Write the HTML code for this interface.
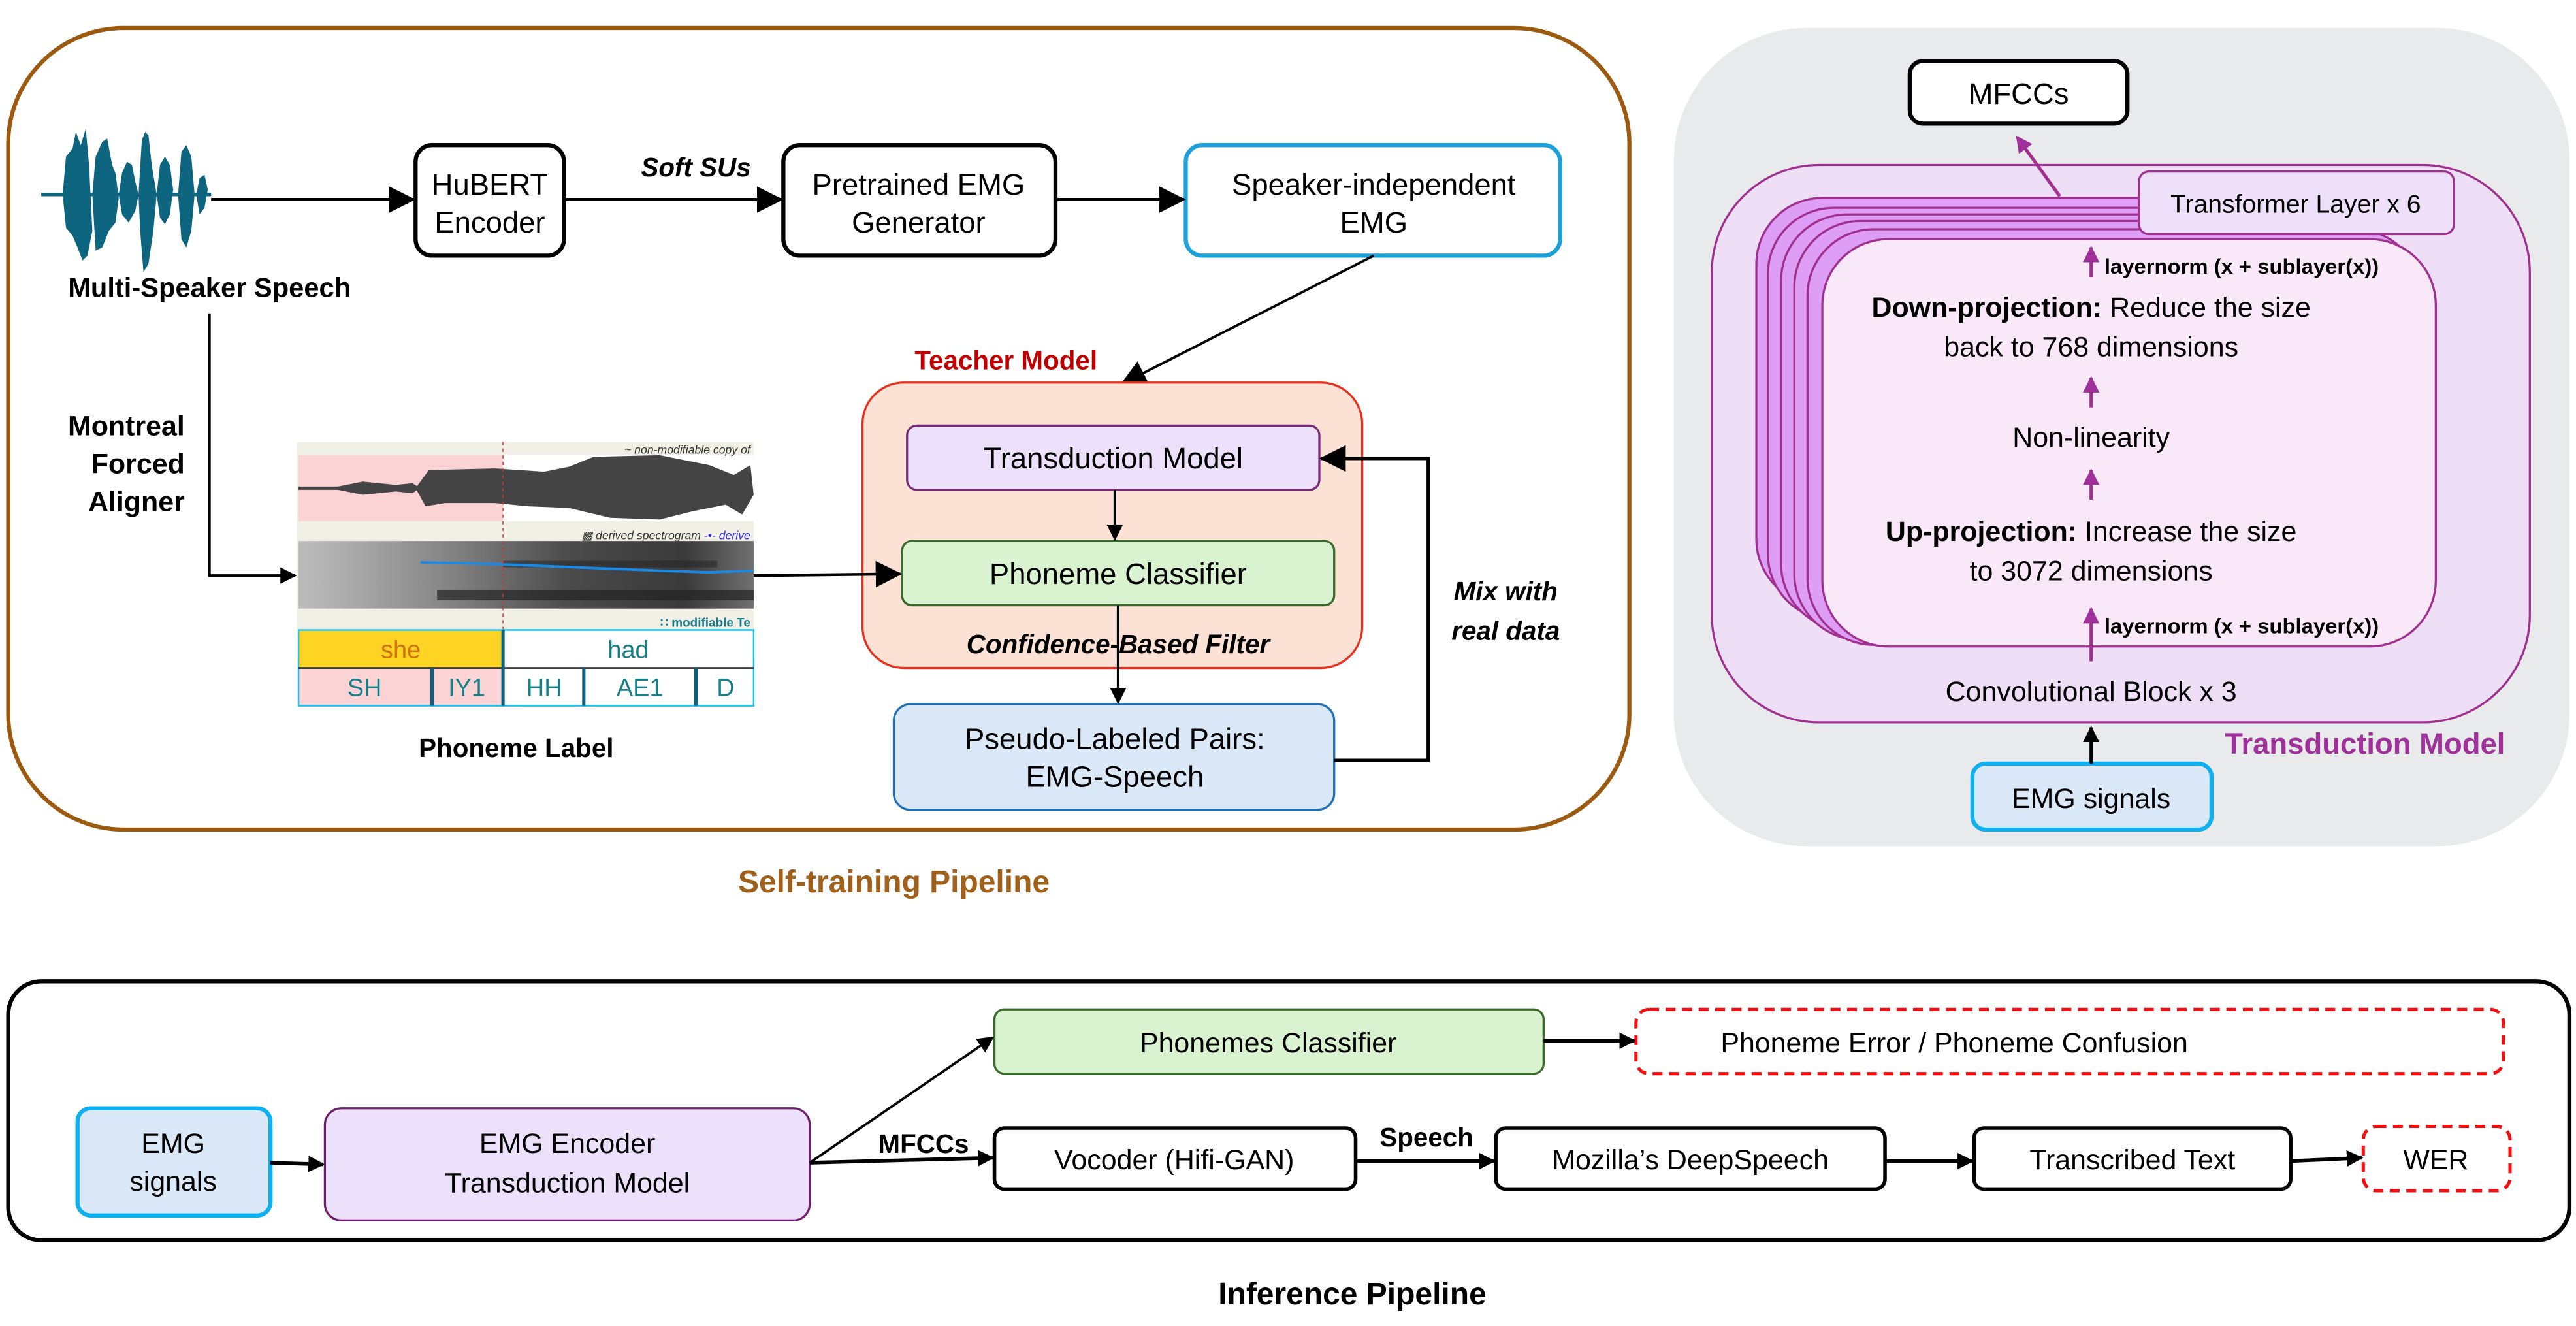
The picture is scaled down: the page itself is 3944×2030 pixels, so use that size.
<!DOCTYPE html>
<html><head><meta charset="utf-8"><style>
html,body{margin:0;padding:0;background:#fff}
svg{display:block}
text{font-family:"Liberation Sans",Arial,sans-serif}
</style></head><body>
<svg width="3944" height="2030" viewBox="0 0 1562 804" preserveAspectRatio="none" xmlns="http://www.w3.org/2000/svg">
<defs>
<marker id="ab" markerWidth="10" markerHeight="10" refX="9" refY="5" orient="auto" markerUnits="userSpaceOnUse"><path d="M0,0 L10,5 L0,10 z" fill="#000"/></marker>
<marker id="ab2" markerWidth="16" markerHeight="16" refX="15" refY="8" orient="auto" markerUnits="userSpaceOnUse"><path d="M0,0 L16,8 L0,16 z" fill="#000"/></marker>
<marker id="ap" markerWidth="10" markerHeight="10" refX="9" refY="5" orient="auto" markerUnits="userSpaceOnUse"><path d="M0,0 L10,5 L0,10 z" fill="#a0309a"/></marker>
<linearGradient id="spg" x1="0" x2="1"><stop offset="0" stop-color="#bdbdbd"/><stop offset="0.3" stop-color="#8a8a8a"/><stop offset="0.6" stop-color="#4a4a4a"/><stop offset="0.85" stop-color="#3a3a3a"/><stop offset="1" stop-color="#707070"/></linearGradient>
</defs>

<!-- Self-training frame -->
<rect x="5" y="17" width="983" height="486" rx="70" fill="none" stroke="#9c5a10" stroke-width="2.5"/>
<text x="542" y="541" font-size="19" font-weight="bold" fill="#a0601a" text-anchor="middle">Self-training Pipeline</text>

<!-- waveform -->
<g fill="#0e6580">
<rect x="25" y="117" width="103" height="2"/>
<polygon points="38,118 40,95 44,90 46,80 49,88 52,78 54,100 56,140 53,155 50,158 47,150 44,143 40,138"/>
<polygon points="56,118 58,95 62,86 65,84 68,100 70,105 72,120 70,135 66,140 62,150 58,152"/>
<polygon points="72,118 74,105 77,98 80,100 82,110 84,118 82,128 78,135 74,130"/>
<polygon points="84,118 86,85 88,80 90,82 92,100 95,118 93,140 90,160 87,165 85,140"/>
<polygon points="95,118 97,100 100,95 103,100 105,115 103,130 100,136 97,132"/>
<polygon points="108,118 110,92 113,88 116,95 118,118 116,140 113,150 110,145"/>
<polygon points="119,118 121,108 124,106 126,115 124,126 121,130"/>
</g>
<text x="127" y="180" font-size="16.5" font-weight="bold" text-anchor="middle">Multi-Speaker Speech</text>

<!-- top row boxes -->
<rect x="252" y="88" width="90" height="67" rx="10" fill="#fff" stroke="#000" stroke-width="2.5"/>
<text x="297" y="118" font-size="18" text-anchor="middle">HuBERT</text>
<text x="297" y="141" font-size="18" text-anchor="middle">Encoder</text>
<rect x="475" y="88" width="165" height="67" rx="10" fill="#fff" stroke="#000" stroke-width="2.5"/>
<text x="557" y="118" font-size="18" text-anchor="middle">Pretrained EMG</text>
<text x="557" y="141" font-size="18" text-anchor="middle">Generator</text>
<rect x="719" y="88" width="227" height="67" rx="10" fill="#fff" stroke="#1da1d8" stroke-width="2.5"/>
<text x="833" y="118" font-size="18" text-anchor="middle">Speaker-independent</text>
<text x="833" y="141" font-size="18" text-anchor="middle">EMG</text>
<text x="422" y="107" font-size="16" font-weight="bold" font-style="italic" text-anchor="middle">Soft SUs</text>
<g stroke="#000" stroke-width="2" fill="none">
<line x1="128" y1="121" x2="251" y2="121" marker-end="url(#ab2)"/>
<line x1="342" y1="121" x2="474" y2="121" marker-end="url(#ab2)"/>
<line x1="640" y1="121" x2="718" y2="121" marker-end="url(#ab2)"/>
<line x1="833" y1="155" x2="680" y2="233" stroke-width="1.5" marker-end="url(#ab2)"/>
</g>

<!-- Teacher -->
<text x="610" y="224" font-size="16" font-weight="bold" fill="#c00000" text-anchor="middle">Teacher Model</text>
<rect x="523" y="232" width="303" height="173" rx="25" fill="#fbe2d5" stroke="#e63020" stroke-width="1.3"/>
<rect x="550" y="258" width="250" height="39" rx="6" fill="#ede0fa" stroke="#7a2a7a" stroke-width="1.3"/>
<text x="675" y="284" font-size="18" text-anchor="middle">Transduction Model</text>
<rect x="547" y="328" width="262" height="39" rx="6" fill="#d9f2d0" stroke="#3a6a2a" stroke-width="1.3"/>
<text x="678" y="354" font-size="18" text-anchor="middle">Phoneme Classifier</text>
<text x="678" y="396" font-size="16" font-weight="bold" font-style="italic" text-anchor="middle">Confidence-Based Filter</text>
<rect x="542" y="427" width="267" height="64" rx="10" fill="#dae8f7" stroke="#2070b8" stroke-width="1.3"/>
<text x="676" y="454" font-size="18" text-anchor="middle">Pseudo-Labeled Pairs:</text>
<text x="676" y="477" font-size="18" text-anchor="middle">EMG-Speech</text>
<g stroke="#000" stroke-width="1.6" fill="none">
<line x1="676" y1="297" x2="676" y2="327" marker-end="url(#ab)"/>
<line x1="678" y1="367" x2="678" y2="426" marker-end="url(#ab)"/>
<polyline points="809,461 866,461 866,278 801,278" stroke-width="2" marker-end="url(#ab2)"/>
<polyline points="127,190 127,349 179,349" marker-end="url(#ab)"/>
<line x1="457" y1="349" x2="546" y2="348" stroke-width="1.8" marker-end="url(#ab2)"/>
</g>
<text x="913" y="364" font-size="16" font-weight="bold" font-style="italic" text-anchor="middle">Mix with</text>
<text x="913" y="388" font-size="16" font-weight="bold" font-style="italic" text-anchor="middle">real data</text>
<text x="112" y="264" font-size="17" font-weight="bold" text-anchor="end">Montreal</text>
<text x="112" y="287" font-size="17" font-weight="bold" text-anchor="end">Forced</text>
<text x="112" y="310" font-size="17" font-weight="bold" text-anchor="end">Aligner</text>

<!-- spectrogram image -->
<rect x="180" y="268" width="277" height="114" fill="#f1f0e6"/>
<rect x="181" y="276" width="124" height="40" fill="#fcd3d4"/>
<rect x="305" y="276" width="152" height="40" fill="#fff"/>
<g fill="#444">
<rect x="181" y="295" width="50" height="2"/>
<polygon points="200,296 220,292 240,294 250,293 255,296 250,299 240,298 220,300"/>
<polygon points="252,296 260,285 300,284 330,286 345,283 360,277 400,276 430,282 445,288 455,282 457,300 450,312 440,306 420,310 400,315 370,314 345,308 320,307 300,305 270,305 258,307"/>
</g>
<text x="455" y="275" font-size="7" font-style="italic" fill="#333" text-anchor="end" font-family="Liberation Serif">~ non-modifiable copy of</text>
<text x="455" y="327" font-size="7" font-style="italic" fill="#333" text-anchor="end" font-family="Liberation Serif">▩ derived spectrogram  <tspan fill="#2a2ae0">-•- derive</tspan></text>
<rect x="181" y="328" width="276" height="41" fill="url(#spg)"/>
<rect x="265" y="358" width="192" height="6" fill="#222" opacity="0.7"/>
<rect x="305" y="340" width="130" height="4" fill="#222" opacity="0.5"/>
<polyline points="255,341 300,342 350,344 400,346 430,347 457,346" fill="none" stroke="#1a8ae8" stroke-width="1.5"/>
<text x="455" y="380" font-size="7.5" font-weight="bold" fill="#1a7a8a" text-anchor="end" font-family="Liberation Serif">∷ modifiable Te</text>
<line x1="305" y1="268" x2="305" y2="405" stroke="#e03030" stroke-width="0.6" stroke-dasharray="2,2"/>
<rect x="181" y="382" width="124" height="23" fill="#fdd423"/>
<rect x="305" y="382" width="152" height="23" fill="#fff"/>
<rect x="181" y="405" width="124" height="23" fill="#fcd3d4"/>
<rect x="305" y="405" width="152" height="23" fill="#fff"/>
<rect x="181" y="382" width="276" height="46" fill="none" stroke="#22c0e8" stroke-width="1"/>
<line x1="181" y1="405" x2="457" y2="405" stroke="#222" stroke-width="1"/>
<g stroke="#0a6080" stroke-width="2"><line x1="305" y1="382" x2="305" y2="428"/><line x1="262" y1="405" x2="262" y2="428"/><line x1="354" y1="405" x2="354" y2="428"/><line x1="422" y1="405" x2="422" y2="428"/></g>
<g font-family="Liberation Serif" font-size="15" text-anchor="middle" fill="#16808a">
<text x="243" y="399" fill="#d27010">she</text><text x="381" y="399">had</text>
<text x="221" y="422">SH</text><text x="283" y="422">IY1</text><text x="330" y="422">HH</text><text x="388" y="422">AE1</text><text x="440" y="422">D</text>
</g>
<text x="313" y="459" font-size="16" font-weight="bold" text-anchor="middle">Phoneme Label</text>

<!-- Right panel -->
<rect x="1015" y="17" width="543" height="496" rx="80" fill="#e8eaeb"/>
<rect x="1158" y="37" width="132" height="38" rx="8" fill="#fff" stroke="#000" stroke-width="2.5"/>
<text x="1224" y="63" font-size="18" text-anchor="middle">MFCCs</text>
<rect x="1038" y="100" width="496" height="338" rx="65" fill="#eedff7" stroke="#a03090" stroke-width="1.3"/>
<g stroke="#a03090" stroke-width="1.3" fill="#de9ef5">
<rect x="1065" y="120" width="372" height="247" rx="40"/>
<rect x="1072" y="126" width="372" height="250" rx="40"/>
<rect x="1080" y="130" width="372" height="252" rx="40"/>
<rect x="1088" y="134" width="372" height="254" rx="40"/>
<rect x="1096" y="139" width="372" height="252" rx="40"/>
<rect x="1105" y="145" width="372" height="247" rx="40" fill="#f9e8f8"/>
</g>
<rect x="1297" y="104" width="191" height="38" rx="6" fill="#ede0f8" stroke="#a03090" stroke-width="1.3"/>
<text x="1392" y="129" font-size="15.5" text-anchor="middle">Transformer Layer x 6</text>
<line x1="1249" y1="119" x2="1223" y2="83" stroke="#a03090" stroke-width="2" marker-end="url(#ap)"/>
<g stroke="#a03090" stroke-width="2">
<line x1="1268" y1="168" x2="1268" y2="150" marker-end="url(#ap)"/>
<line x1="1268" y1="247" x2="1268" y2="229" marker-end="url(#ap)"/>
<line x1="1268" y1="303" x2="1268" y2="285" marker-end="url(#ap)"/>
<line x1="1268" y1="401" x2="1268" y2="369" marker-end="url(#ap)"/>
</g>
<text x="1276" y="166" font-size="13" font-weight="bold">layernorm (x + sublayer(x))</text>
<text x="1276" y="384" font-size="13" font-weight="bold">layernorm (x + sublayer(x))</text>
<text x="1268" y="192" font-size="17" text-anchor="middle"><tspan font-weight="bold">Down-projection:</tspan> Reduce the size</text>
<text x="1268" y="216" font-size="17" text-anchor="middle">back to 768 dimensions</text>
<text x="1268" y="271" font-size="17" text-anchor="middle">Non-linearity</text>
<text x="1268" y="328" font-size="17" text-anchor="middle"><tspan font-weight="bold">Up-projection:</tspan> Increase the size</text>
<text x="1268" y="352" font-size="17" text-anchor="middle">to 3072 dimensions</text>
<text x="1268" y="425" font-size="17" text-anchor="middle">Convolutional Block x 3</text>
<text x="1434" y="457" font-size="18" font-weight="bold" fill="#a0309a" text-anchor="middle">Transduction Model</text>
<rect x="1196" y="463" width="145" height="40" rx="8" fill="#dae8f7" stroke="#10b0f0" stroke-width="2.5"/>
<text x="1268" y="490" font-size="17" text-anchor="middle">EMG signals</text>
<line x1="1268" y1="463" x2="1268" y2="441" stroke="#000" stroke-width="2" marker-end="url(#ab)"/>

<!-- Inference -->
<rect x="5" y="595" width="1553" height="157" rx="20" fill="#fff" stroke="#000" stroke-width="2.5"/>
<text x="820" y="791" font-size="19" font-weight="bold" text-anchor="middle">Inference Pipeline</text>
<rect x="47" y="672" width="117" height="65" rx="8" fill="#dae8f7" stroke="#10b0f0" stroke-width="2.5"/>
<text x="105" y="699" font-size="17" text-anchor="middle">EMG</text>
<text x="105" y="722" font-size="17" text-anchor="middle">signals</text>
<rect x="197" y="672" width="294" height="68" rx="10" fill="#ede0fa" stroke="#702070" stroke-width="1.3"/>
<text x="344" y="699" font-size="17" text-anchor="middle">EMG Encoder</text>
<text x="344" y="723" font-size="17" text-anchor="middle">Transduction Model</text>
<rect x="603" y="612" width="333" height="39" rx="6" fill="#d9f2d0" stroke="#3a6a2a" stroke-width="1.3"/>
<text x="769" y="638" font-size="17" text-anchor="middle">Phonemes Classifier</text>
<rect x="992" y="612" width="526" height="39" rx="8" fill="#fff" stroke="#f01010" stroke-width="2" stroke-dasharray="6,4"/>
<text x="1185" y="638" font-size="17" text-anchor="middle">Phoneme Error / Phoneme Confusion</text>
<rect x="603" y="684" width="219" height="37" rx="6" fill="#fff" stroke="#000" stroke-width="2.2"/>
<text x="712" y="709" font-size="17" text-anchor="middle">Vocoder (Hifi-GAN)</text>
<rect x="907" y="684" width="236" height="37" rx="6" fill="#fff" stroke="#000" stroke-width="2.2"/>
<text x="1025" y="709" font-size="17" text-anchor="middle">Mozilla’s DeepSpeech</text>
<rect x="1197" y="684" width="192" height="37" rx="6" fill="#fff" stroke="#000" stroke-width="2.2"/>
<text x="1293" y="709" font-size="17" text-anchor="middle">Transcribed Text</text>
<rect x="1433" y="683" width="89" height="39" rx="8" fill="#fff" stroke="#f01010" stroke-width="2" stroke-dasharray="6,4"/>
<text x="1477" y="709" font-size="17" text-anchor="middle">WER</text>
<text x="560" y="699" font-size="16" font-weight="bold" text-anchor="middle">MFCCs</text>
<text x="865" y="695" font-size="16" font-weight="bold" text-anchor="middle">Speech</text>
<g stroke="#000" stroke-width="2.2" fill="none">
<line x1="164" y1="705" x2="196" y2="706" marker-end="url(#ab)"/>
<line x1="491" y1="705" x2="602" y2="702" marker-end="url(#ab)"/>
<line x1="491" y1="705" x2="602" y2="629" stroke-width="1.5" marker-end="url(#ab)"/>
<line x1="936" y1="631" x2="991" y2="631" marker-end="url(#ab)"/>
<line x1="822" y1="704" x2="906" y2="704" marker-end="url(#ab)"/>
<line x1="1143" y1="704" x2="1196" y2="704" marker-end="url(#ab)"/>
<line x1="1389" y1="704" x2="1432" y2="702" marker-end="url(#ab)"/>
</g>
</svg>
</body></html>
